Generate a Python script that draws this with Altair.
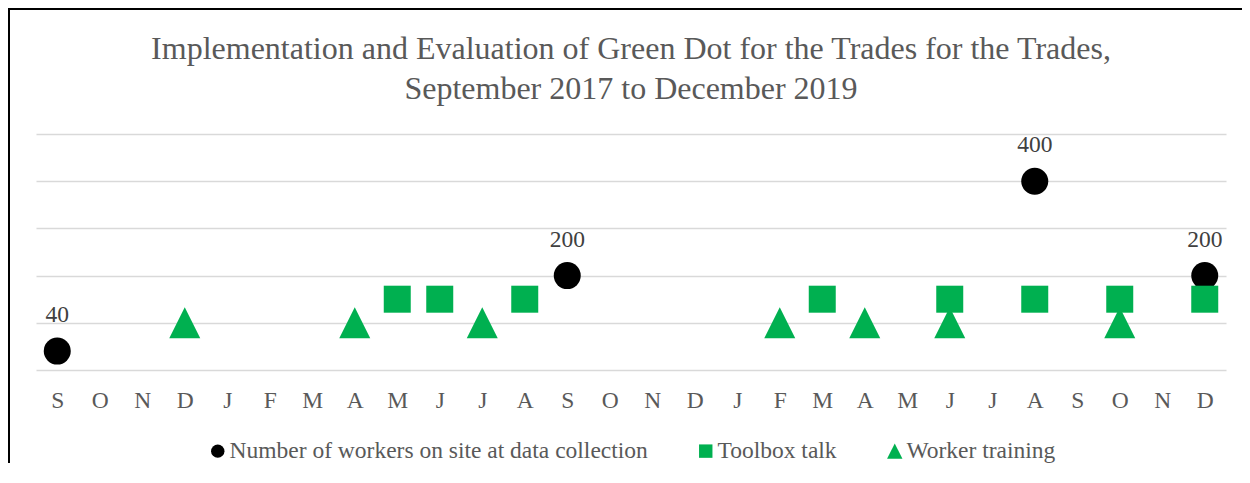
import json
import altair as alt
import pandas as pd

# ---- data ----
months = ["S", "O", "N", "D", "J", "F", "M", "A", "M", "J", "J", "A", "S", "O",
          "N", "D", "J", "F", "M", "A", "M", "J", "J", "A", "S", "O", "N", "D"]
series_names = ["Number of workers on site at data collection", "Toolbox talk", "Worker training"]

workers_idx = [0, 12, 23, 27]
workers_val = [40, 200, 400, 200]
toolbox_idx = [8, 9, 11, 18, 21, 23, 25, 27]
toolbox_val = [150, 150, 150, 150, 150, 150, 150, 150]
training_idx = [3, 7, 10, 17, 19, 21, 25]
training_val = [100, 100, 100, 100, 100, 100, 100]

rows = []
for i, v in zip(workers_idx, workers_val):
    rows.append({"series": series_names[0], "idx": i, "val": v, "z": 0})
for i, v in zip(training_idx, training_val):
    rows.append({"series": series_names[2], "idx": i, "val": v, "z": 1})
for i, v in zip(toolbox_idx, toolbox_val):
    rows.append({"series": series_names[1], "idx": i, "val": v, "z": 2})
df = pd.DataFrame(rows)
lab_df = pd.DataFrame({"idx": workers_idx, "val": workers_val, "txt": [str(v) for v in workers_val]})

FONT = "'Liberation Serif', 'Times New Roman', Times, serif"
GREEN = "#00B050"
TRI = "M0,-1.15L1.15,1.15L-1.15,1.15Z"

W, H = 1190, 236
PAD = {"left": 28, "top": 126, "right": 16, "bottom": 93}

x_enc = alt.X(
    "idx:Q",
    scale=alt.Scale(domain=[-0.5, len(months) - 0.5], nice=False, zero=False),
    axis=alt.Axis(
        values=list(range(len(months))),
        labelExpr=json.dumps(months) + "[datum.value]",
        grid=False, ticks=False, domain=False, title=None,
        labelFont=FONT, labelFontSize=23.5, labelColor="#595959",
        labelPadding=18, labelFlush=False, labelOverlap=False,
    ),
)
y_enc = alt.Y(
    "val:Q",
    scale=alt.Scale(domain=[0, 500], nice=False, zero=True),
    axis=alt.Axis(
        values=[0, 100, 200, 300, 400, 500],
        labels=False, ticks=False, domain=False, title=None,
        grid=True, gridColor="#d9d9d9", gridWidth=1.3,
    ),
)

points = alt.Chart(df).mark_point(filled=True, size=729, opacity=1, strokeWidth=0).encode(
    x=x_enc,
    y=y_enc,
    color=alt.Color(
        "series:N",
        scale=alt.Scale(domain=series_names, range=["#000000", GREEN, GREEN]),
        legend=alt.Legend(
            title=None, orient="none", direction="horizontal",
            legendX=170, legendY=305,
            columnPadding=46, labelOffset=0, symbolSize=180,
            labelFont=FONT, labelFontSize=23.5, labelColor="#595959",
            symbolStrokeWidth=0, symbolOpacity=1, labelLimit=0, padding=0,
        ),
    ),
    shape=alt.Shape(
        "series:N",
        scale=alt.Scale(domain=series_names, range=["circle", "square", TRI]),
        legend=None,
    ),
    order=alt.Order("z:Q"),
)

labels = alt.Chart(lab_df).mark_text(
    font=FONT, fontSize=23.5, color="#404040", dy=-29, baseline="alphabetic", align="center"
).encode(x="idx:Q", y="val:Q", text="txt:N")

frame_df = pd.DataFrame({"k": [0]})
left_rule = alt.Chart(frame_df).mark_rule(color="#000000", strokeWidth=2).encode(
    x=alt.value(-PAD["left"] + 1), y=alt.value(-PAD["top"]), y2=alt.value(H + PAD["bottom"])
)
top_rule = alt.Chart(frame_df).mark_rule(color="#000000", strokeWidth=2).encode(
    y=alt.value(-PAD["top"] + 1), x=alt.value(-PAD["left"]), x2=alt.value(W + PAD["right"])
)

chart = alt.layer(points, labels, left_rule, top_rule).properties(
    width=W,
    height=H,
    padding=PAD,
    background="white",
    autosize=alt.AutoSizeParams(type="none"),
    title=alt.TitleParams(
        ["Implementation and Evaluation of Green Dot for the Trades for the Trades,",
         "September 2017 to December 2019"],
        font=FONT, fontSize=32, color="#595959", fontWeight="normal",
        lineHeight=40.5, offset=-99, anchor="middle",
    ),
).configure_view(stroke=None)

chart.save("out.html", embed_options={"renderer": "svg", "actions": False})
